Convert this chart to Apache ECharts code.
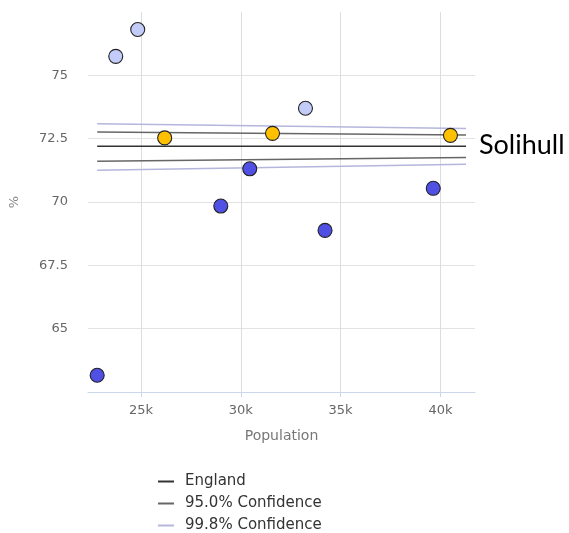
<!DOCTYPE html>
<html>
<head>
<meta charset="utf-8">
<script src="https://cdn.jsdelivr.net/npm/echarts@6/dist/echarts.min.js"></script>
<style>
  html, body { margin: 0; padding: 0; background: #fff; }
  #chart { width: 569px; height: 533px; }
</style>
</head>
<body>
<div id="chart"></div>
<script>
// Areas plotted by population against percentage
const population = [23740, 24840, 33240, 26190, 31590, 40500, 30450, 29000, 34220, 39640, 22810];
const percent    = [75.75, 76.81, 73.70, 72.53, 72.71, 72.63, 71.31, 69.84, 68.88, 70.54, 63.16];
// 'high' = above the control limits, 'mid' = within, 'low' = below
const band       = ['high', 'high', 'high', 'mid', 'mid', 'mid', 'low', 'low', 'low', 'low', 'low'];
const highlightIndex = 5;
const highlightName = 'Solihull';

// Funnel reference lines (population at each end)
const lineX      = [22810, 41280];
const england    = [72.20, 72.20];
const upper95    = [72.76, 72.64];
const lower95    = [71.61, 71.76];
const upper998   = [73.09, 72.90];
const lower998   = [71.25, 71.49];

const xTicks = [25000, 30000, 35000, 40000];

const FONT = 'DejaVu Sans';
const bandColors = { high: '#c3cbf8', mid: '#ffc000', low: '#5050e4' };

function pointsFor(key) {
  const out = [];
  population.forEach((x, i) => {
    if (band[i] !== key) return;
    const item = { value: [x, percent[i]] };
    if (i === highlightIndex) {
      item.label = {
        show: true,
        formatter: highlightName,
        position: 'right',
        distance: 21,
        offset: [0, 10],
        color: '#000',
        fontFamily: 'Lato',
        fontSize: 27
      };
    }
    out.push(item);
  });
  return out;
}

function line(name, ys, color, width) {
  return {
    name: name,
    type: 'line',
    data: lineX.map((x, i) => [x, ys[i]]),
    symbol: 'none',
    lineStyle: { color: color, width: width },
    itemStyle: { color: color },
    silent: true,
    z: 2
  };
}

function scatter(key) {
  return {
    name: key,
    type: 'scatter',
    data: pointsFor(key),
    symbolSize: 14,
    itemStyle: { color: bandColors[key], borderColor: '#222', borderWidth: 1.1, opacity: 1 },
    z: 5
  };
}

const chart = echarts.init(document.getElementById('chart'));
chart.setOption({
  animation: false,
  backgroundColor: '#fff',
  textStyle: { fontFamily: FONT },
  grid: { left: 85, right: 94, top: 12, bottom: 141 },
  legend: {
    data: ['England', '95.0% Confidence', '99.8% Confidence'],
    orient: 'vertical',
    left: 157,
    top: 474,
    height: 60,
    padding: 0,
    itemWidth: 16,
    itemHeight: 15,
    itemGap: 7,
    itemStyle: { opacity: 0 },
    textStyle: { fontFamily: FONT, fontSize: 15, color: '#333', padding: [0, 0, 0, 6] }
  },
  xAxis: {
    type: 'value',
    min: 22350,
    max: 41730,
    splitNumber: 4,
    name: 'Population',
    nameLocation: 'middle',
    nameGap: 37,
    nameTextStyle: { fontFamily: FONT, fontSize: 14, color: '#777' },
    axisLine: { show: true, lineStyle: { color: '#ccd6eb' } },
    axisTick: { show: true, length: 5, lineStyle: { color: '#ccd6eb' }, customValues: xTicks },
    axisLabel: {
      customValues: xTicks,
      margin: 12,
      fontFamily: FONT,
      fontSize: 13,
      color: '#666',
      formatter: v => (v / 1000) + 'k'
    },
    splitLine: { show: true, lineStyle: { color: '#dcdce6' } }
  },
  yAxis: {
    type: 'value',
    min: 62.5,
    max: 77.5,
    interval: 2.5,
    name: '%',
    nameLocation: 'middle',
    nameRotate: 90,
    nameGap: 67,
    nameTextStyle: { fontFamily: FONT, fontSize: 13, color: '#888' },
    axisLine: { show: false },
    axisTick: { show: false },
    axisLabel: { showMinLabel: false, showMaxLabel: false, margin: 20, fontFamily: FONT, fontSize: 13, color: '#666' },
    splitLine: { show: true, showMinLine: false, showMaxLine: false, lineStyle: { color: '#e3e3e3' } }
  },
  series: [
    line('England', england, '#333333', 1.5),
    line('95.0% Confidence', upper95, '#666666', 1.5),
    line('95.0% Confidence', lower95, '#666666', 1.5),
    line('99.8% Confidence', upper998, '#b4b6dc', 1.5),
    line('99.8% Confidence', lower998, '#b4b6dc', 1.5),
    scatter('high'),
    scatter('mid'),
    scatter('low')
  ]
});
</script>
</body>
</html>
